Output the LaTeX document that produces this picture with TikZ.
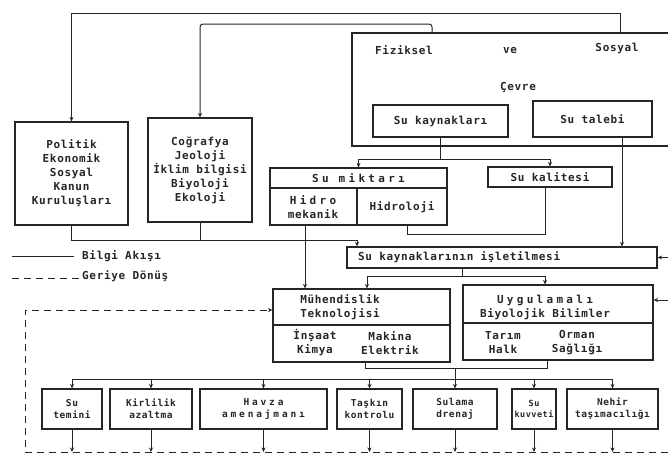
\documentclass[tikz,border=0pt]{standalone}
\usepackage{fontspec}
\setmainfont{DejaVu Sans Mono}
\newfontfamily\tf[LetterSpace=6]{DejaVu Sans Mono}
\newfontfamily\wf[LetterSpace=30]{DejaVu Sans Mono}
\usetikzlibrary{arrows.meta,calc}
\definecolor{ink}{gray}{0.15}
\tikzset{
  bx/.style={draw=ink, line width=1.2pt, inner sep=0pt, align=center, text=ink,
    font=\tf\bfseries\fontsize{11}{14}\selectfont},
  bb/.style={bx, minimum height=40, font=\tf\bfseries\fontsize{9.5}{12}\selectfont},
  lbl/.style={inner sep=0pt, align=center, text=ink, font=\tf\bfseries\fontsize{11}{14}\selectfont},
  wlbl/.style={lbl, font=\wf\bfseries\fontsize{11}{14}\selectfont},
  ln/.style={draw=ink, line width=1pt},
  bxl/.style={draw=ink, line width=1.1pt},
  arr/.style={ln, -{Stealth[length=4.5pt,width=4pt]}},
  fb/.style={ln, dash pattern=on 7pt off 5pt},
  fbarr/.style={fb, -{Stealth[length=4.5pt,width=4pt]}}
}
\begin{document}
\begin{tikzpicture}[x=1pt,y=-1pt]
\useasboundingbox[fill=white] (0,0) rectangle (668,464);

% environment frame
\draw[bxl] (668,33) -- (352,33) -- (352,146) -- (668,146);
\coordinate (ft1) at (620,33);
\coordinate (ft2) at (432,33);
\node[lbl] (fiz) at (404,50) {Fiziksel};
\node[lbl] (ve) at (510,50) {ve};
\node[lbl] (sos) at (617,48) {Sosyal};
\node[lbl] (cev) at (518,87) {Çevre};

% boxes
\node[bx, minimum width=113, minimum height=103] (pol) at (71.5,173.5)
  {Politik\\Ekonomik\\Sosyal\\Kanun\\Kuruluşları};
\node[bx, minimum width=104, minimum height=104] (cog) at (200,170)
  {Coğrafya\\Jeoloji\\İklim bilgisi\\Biyoloji\\Ekoloji};
\node[bx, minimum width=135, minimum height=32] (kay) at (440.5,121) {Su kaynakları};
\node[bx, minimum width=119, minimum height=36] (tal) at (592.5,119) {Su talebi};

\node[bx, minimum width=177, minimum height=57] (mik) at (358.5,196.5) {};
\draw[bxl] (mik.west |- 0,188) -- (mik.east |- 0,188);
\draw[bxl] (357,188) -- (mik.south -| 357,0);
\node[wlbl] (mikt) at (358.5,178) {Su miktarı};
\node[lbl] (hid) at (313,207) {{\wf Hidro}\\mekanik};
\node[lbl] (hidl) at (402,207) {Hidroloji};

\node[bx, minimum width=124, minimum height=20] (kal) at (550,177) {Su kalitesi};

\node[bx, minimum width=310, minimum height=21] (isl) at (502,257.5) {};
\node[lbl, anchor=west] (islt) at (358,257.5) {Su kaynaklarının işletilmesi};

\node[bx, minimum width=177, minimum height=73] (muh) at (361.5,325.5) {};
\draw[bxl] (muh.west |- 0,325) -- (muh.east |- 0,325);
\node[lbl] (muht) at (340,307) {Mühendislik\\Teknolojisi};
\node[lbl] (ins) at (315,343) {İnşaat\\Kimya};
\node[lbl] (mak) at (390,343) {Makina\\Elektrik};

\node[bx, minimum width=190, minimum height=75] (uyg) at (558,322.5) {};
\draw[bxl] (uyg.west |- 0,323) -- (uyg.east |- 0,323);
\node[lbl] (uygt) at (545,307) {{\wf Uygulamalı}\\Biyolojik Bilimler};
\node[lbl] (tar) at (503,343) {Tarım\\Halk};
\node[lbl] (orm) at (577,343) {Orman\\Sağlığı};

% bottom boxes
\node[bb, minimum width=60] (b1) at (72,409) {Su\\temini};
\node[bb, minimum width=82] (b2) at (151,409) {Kirlilik\\azaltma};
\node[bb, minimum width=127, font=\wf\bfseries\fontsize{9.5}{12}\selectfont] (b3) at (263.5,409) {Havza\\amenajmanı};
\node[bb, minimum width=65] (b4) at (369.5,409) {Taşkın\\kontrolu};
\node[bb, minimum width=84] (b5) at (455,409) {Sulama\\drenaj};
\node[bb, minimum width=44, font=\tf\bfseries\fontsize{8.5}{11}\selectfont] (b6) at (534,409) {Su\\kuvveti};
\node[bb, minimum width=91] (b7) at (612.5,409) {Nehir\\taşımacılığı};

% legend
\coordinate (lga1) at (12,256);
\coordinate (lga2) at (74,256);
\coordinate (lgb1) at (12,278);
\coordinate (lgb2) at (80,278);
\draw[ln] (lga1) -- (lga2);
\node[lbl, anchor=west] (lga) at (82,256) {Bilgi Akışı};
\draw[fb] (lgb1) -- (lgb2);
\node[lbl, anchor=west] (lgb) at (82,276) {Geriye Dönüş};

% connectors from environment
\draw[arr] (ft1) -- (620,13) -| (pol.north);
\draw[arr, rounded corners=3pt] (ft2) -- (432,24) -| (cog.north);

% to operation
\coordinate (jl) at (357,240);
\draw[arr] (pol.south) |- (jl) -- (jl |- isl.north);
\draw[ln] (cog.south) -- (cog.south |- jl);
\draw[arr] (mik.south -| 305,0) -- (muh.north -| 305,0);

% resources to quantity/quality
\coordinate (jk) at (440.5,159);
\draw[ln] (kay.south) -- (jk);
\draw[arr] (jk) -| (mik.north);
\draw[arr] (jk) -| (kal.north);
\draw[ln] (mik.south -| 407,0) -- (407,234) -| (kal.south -| 545,0);

% demand to operation
\draw[arr] (tal.south -| 622,0) -- (isl.north -| 622,0);

% right edge inputs
\coordinate (re1) at (668,257.5);
\coordinate (re2) at (668,300);
\draw[arr] (re1) -- (isl.east);
\draw[arr] (re2) -- (uyg.east |- re2);

% operation to disciplines
\coordinate (ji) at (462,276);
\draw[ln] (isl.south -| ji) -- (ji);
\draw[arr] (ji) -| (muh.north -| 367,0);
\draw[arr] (ji) -| (uyg.north -| 545,0);

% disciplines to outputs
\coordinate (jb) at (455,368);
\coordinate (jd) at (455,379);
\draw[ln] (muh.south -| 365,0) |- (jb) -| (uyg.south -| 547,0);
\draw[ln] (jb) -- (jd);
\foreach \b in {b1,b2,b3,b4,b5,b6,b7} \draw[arr] (jd) -| (\b.north);

% feedback
\coordinate (fbl) at (25,452);
\coordinate (fbr) at (668,452);
\foreach \b in {b1,b2,b3,b4,b5,b6,b7} \draw[arr] (\b.south) -- (\b.south |- fbl);
\draw[fbarr] (fbr) -- (fbl) -- (25,310) -- (muh.west |- 0,310);
\end{tikzpicture}
\end{document}
